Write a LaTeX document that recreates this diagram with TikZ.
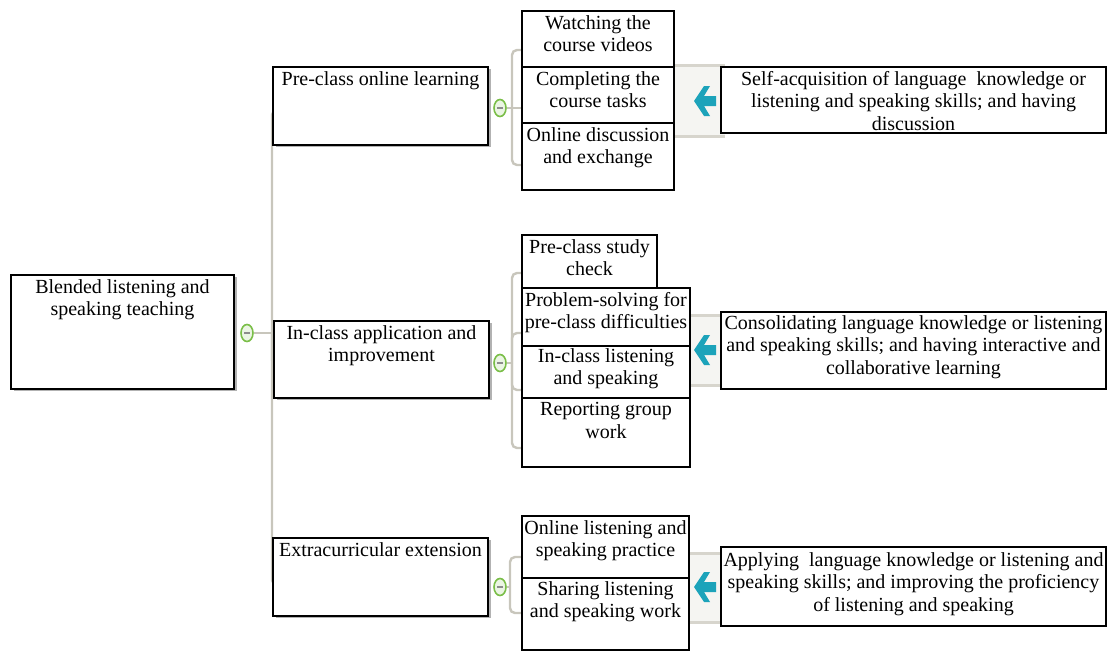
\documentclass[tikz,border=0pt]{standalone}
\usepackage{fontspec}
\setmainfont{Liberation Serif}
\usepackage{tikz}
\usetikzlibrary{shapes.geometric, backgrounds, shadows, calc}

\definecolor{branchgray}{RGB}{200,198,188}
\definecolor{bandgray}{RGB}{245,245,242}
\definecolor{bandline}{RGB}{215,213,205}
\definecolor{arrowteal}{RGB}{28,163,186}
\definecolor{dotgreen}{RGB}{122,190,72}

\begin{document}
\begin{tikzpicture}[
  x=1pt, y=-1pt,
  box/.style={rectangle, draw, line width=1.4pt, fill=white, inner sep=0pt, outer sep=0pt, anchor=north west},
  topbox/.style={box, drop shadow={shadow xshift=3pt, shadow yshift=-2pt, fill=black!60}},
  txt/.style={anchor=north, align=center, inner sep=1pt, font=\fontsize{20}{22.7}\selectfont},
  dot/.style={ellipse, draw=dotgreen, line width=1.6pt, fill=dotgreen!15, minimum width=12pt, minimum height=17pt, inner sep=0pt,
    path picture={\draw[black!45, line width=1.2pt] ([xshift=-3pt]path picture bounding box.center) -- ([xshift=3pt]path picture bounding box.center);}},
  branch/.style={draw=branchgray, line width=2.4pt, rounded corners=5pt},
  band/.style={fill=bandgray},
  bandedge/.style={draw=bandline, line width=3pt},
  cue/.style={fill=arrowteal}
]
\useasboundingbox (0,0) rectangle (1108,653);

% Root
\node[topbox, minimum width=223, minimum height=114] (root) at (11,275) {};
\node[txt] (root-t) at ([yshift=-3pt]root.north) {Blended listening and\\speaking teaching};
\node[dot] (rootdot) at (247,333) {};

% Pre-class
\node[topbox, minimum width=215, minimum height=78] (pre) at (273,67) {};
\node[txt] (pre-t) at ([yshift=-3pt]pre.north) {Pre-class online learning};
\node[dot] (predot) at (500,108) {};

\node[box, minimum width=152, minimum height=56] (w1) at (522,11) {};
\node[txt] (w1-t) at ([yshift=-3pt]w1.north) {Watching the\\course videos};
\node[box, minimum width=152, minimum height=56] (w2) at (522,67) {};
\node[txt] (w2-t) at ([yshift=-3pt]w2.north) {Completing the\\course tasks};
\node[box, minimum width=152, minimum height=67] (w3) at (522,123) {};
\node[txt] (w3-t) at ([yshift=-3pt]w3.north) {Online discussion\\and exchange};

\node[box, minimum width=385, minimum height=66] (r1) at (721,67) {};
\node[txt] (r1-t) at ([yshift=-3pt]r1.north) {Self-acquisition of language\ \ knowledge or\\listening and speaking skills; and having\\discussion};

% In-class
\node[topbox, minimum width=215, minimum height=77] (in) at (274,321) {};
\node[txt] (in-t) at ([yshift=-3pt]in.north) {In-class application and\\improvement};
\node[dot] (indot) at (500,363) {};

\node[box, minimum width=135, minimum height=53] (p1) at (522,235) {};
\node[txt] (p1-t) at ([yshift=-3pt]p1.north) {Pre-class study\\check};
\node[box, minimum width=168, minimum height=58] (p2) at (522,288) {};
\node[txt] (p2-t) at ([yshift=-3pt]p2.north) {Problem-solving for\\pre-class difficulties};
\node[box, minimum width=168, minimum height=52] (p3) at (522,346) {};
\node[txt] (p3-t) at ([yshift=-1pt]p3.north) {In-class listening\\and speaking};
\node[box, minimum width=168, minimum height=69] (p4) at (522,398) {};
\node[txt] (p4-t) at ([yshift=-3pt]p4.north) {Reporting group\\work};

\node[box, minimum width=385, minimum height=77] (r2) at (721,312) {};
\node[txt] (r2-t) at ([yshift=-2pt]r2.north) {Consolidating language knowledge or listening\\and speaking skills; and having interactive and\\collaborative learning};

% Extracurricular
\node[topbox, minimum width=215, minimum height=78] (ex) at (273,538) {};
\node[txt] (ex-t) at ([yshift=-3pt]ex.north) {Extracurricular extension};
\node[dot] (exdot) at (500,587) {};

\node[box, minimum width=167, minimum height=62] (e1) at (522,516) {};
\node[txt] (e1-t) at ([yshift=-3pt]e1.north) {Online listening and\\speaking practice};
\node[box, minimum width=167, minimum height=72] (e2) at (522,578) {};
\node[txt] (e2-t) at ([yshift=-2pt]e2.north) {Sharing listening\\and speaking work};

\node[box, minimum width=385, minimum height=79] (r3) at (721,547) {};
\node[txt] (r3-t) at ([yshift=-4pt]r3.north) {Applying\ \ language knowledge or listening and\\speaking skills; and improving the proficiency\\of listening and speaking};

% arrows
\foreach \ay in {101,350,587}
  \fill[cue, shift={(705,\ay)}] (-11,0) -- (-1,-15) -- (5,-15) -- (-1,-5) -- (11,-5) -- (11,5) -- (-1,5) -- (5,15) -- (-1,15) -- cycle;

% connectors
\begin{scope}[on background layer]
\coordinate (b0) at (272,333);
\coordinate (b1) at (512,108);
\coordinate (b2) at (512,363);
\coordinate (b3) at (510,587);
\foreach \y [count=\i] in {110,365,585} \coordinate (s\i) at (285,\y);
\foreach \y [count=\i] in {50,108,165} \coordinate (t1\i) at (525,\y);
\foreach \y [count=\i] in {273,333,390,448} \coordinate (t2\i) at (525,\y);
\foreach \y [count=\i] in {557,613} \coordinate (t3\i) at (525,\y);

\draw[branch] (rootdot) -- (b0);
\draw[branch] (s1) -| (b0) |- (s3);
\draw[branch] (s2) -| (b0);

\draw[branch] (predot) -- (b1) -- (t12);
\draw[branch] (t11) -| (b1) |- (t13);

\draw[branch] (indot) -- (b2);
\draw[branch] (t21) -| (b2) |- (t24);
\draw[branch] (t22) -| (b2);
\draw[branch] (t23) -| (b2);

\draw[branch] (exdot) -- (b3);
\draw[branch] (t31) -| (b3) |- (t32);

% bands
\fill[band] (674,65) rectangle (725,136);
\draw[bandedge] (674,65) -- (725,65) (674,136) -- (725,136);
\fill[band] (690,315) rectangle (725,385);
\draw[bandedge] (690,315) -- (725,315) (690,385) -- (725,385);
\fill[band] (689,553) rectangle (725,622);
\draw[bandedge] (689,553) -- (725,553) (689,622) -- (725,622);
\end{scope}

\end{tikzpicture}
\end{document}
